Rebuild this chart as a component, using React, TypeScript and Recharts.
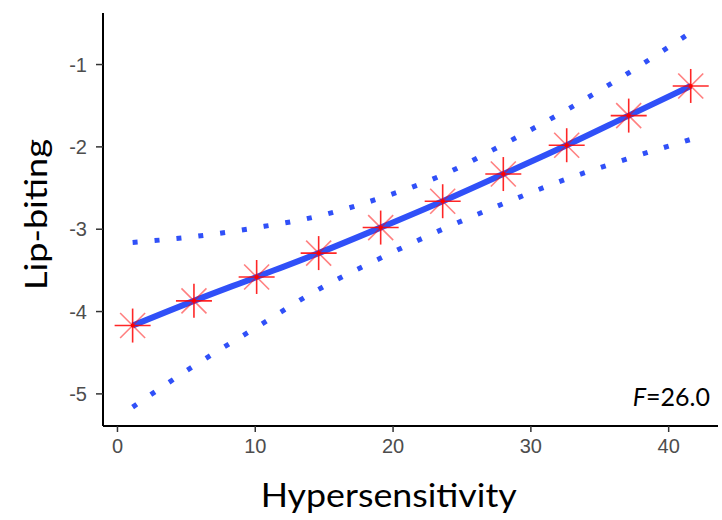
import React from "react";
import {
  ComposedChart,
  Line,
  Scatter,
  XAxis,
  YAxis,
} from "recharts";

// Hypersensitivity scores at which the model was evaluated
const hyper = [1.1, 5.55, 10.1, 14.6, 19.1, 23.6, 28.0, 32.6, 37.1, 41.6];
// predicted lip-biting and its confidence band
const fit = [-4.17, -3.87, -3.58, -3.29, -2.98, -2.66, -2.33, -1.98, -1.62, -1.26];
const upper = [-3.16, -3.09, -2.98, -2.84, -2.62, -2.34, -1.97, -1.55, -1.1, -0.61];
const lower = [-5.16, -4.66, -4.19, -3.73, -3.35, -3.0, -2.69, -2.39, -2.14, -1.91];

const xTicks = [0, 10, 20, 30, 40];
const yTicks = [-5, -4, -3, -2, -1];

const data = hyper.map((x, i) => ({
  x,
  fit: fit[i],
  upper: upper[i],
  lower: lower[i],
}));

const BLUE = "#3050f8";
const tickStyle = { fontSize: 20, fill: "#4d4d4d", fontFamily: "Liberation Sans, Arial, sans-serif" };

function Star(props: any) {
  const { cx, cy } = props;
  if (cx == null || cy == null) return null;
  const d = 12.5;
  return (
    <g>
      <line x1={cx - 18} y1={cy} x2={cx + 18} y2={cy} stroke="#ff0000" strokeOpacity={0.85} strokeWidth={1.6} />
      <line x1={cx} y1={cy - 17} x2={cx} y2={cy + 17} stroke="#ff0000" strokeOpacity={0.85} strokeWidth={1.6} />
      <line x1={cx - d} y1={cy - d} x2={cx + d} y2={cy + d} stroke="#ff0000" strokeOpacity={0.5} strokeWidth={1.6} />
      <line x1={cx - d} y1={cy + d} x2={cx + d} y2={cy - d} stroke="#ff0000" strokeOpacity={0.5} strokeWidth={1.6} />
      <circle cx={cx} cy={cy} r={2} fill="#ff0000" />
    </g>
  );
}

const titleFont = "Lato, 'Open Sans', sans-serif";

export default function App() {
  return (
    <div style={{ position: "absolute", left: 0, top: 0, width: 722, height: 520, background: "#fff" }}>
      <ComposedChart
        width={722}
        height={520}
        data={data}
        margin={{ top: 13, right: 4, bottom: 0, left: 0 }}
      >
        <XAxis
          dataKey="x"
          type="number"
          domain={[-1.05, 43.58]}
          ticks={xTicks}
          allowDataOverflow
          height={94}
          tickSize={6}
          tickMargin={7}
          tick={tickStyle}
          axisLine={{ stroke: "#000", strokeWidth: 2 }}
          tickLine={{ stroke: "#333", strokeWidth: 1.5 }}
          label={{
            content: () => (
              <g>
                <text
                  x={388.7}
                  y={507}
                  textAnchor="middle"
                  fontFamily={titleFont}
                  fontSize={32}
                  fill="#000"
                  textLength={256}
                  lengthAdjust="spacingAndGlyphs"
                >
                  Hypersensitivity
                </text>
                <text x={710} y={406} textAnchor="end" fontFamily={titleFont} fontSize={25} fill="#000">
                  <tspan fontStyle="italic">F</tspan>=26.0
                </text>
              </g>
            ),
          }}
        />
        <YAxis
          type="number"
          domain={[-5.39, -0.374]}
          ticks={yTicks}
          allowDataOverflow
          width={103}
          tickSize={7}
          tickMargin={9}
          tick={tickStyle}
          axisLine={{ stroke: "#000", strokeWidth: 2 }}
          tickLine={{ stroke: "#333", strokeWidth: 1.5 }}
          label={{
            content: () => (
              <text
                x={47}
                y={214.5}
                transform="rotate(-90 47 214.5)"
                textAnchor="middle"
                fontFamily={titleFont}
                fontSize={31}
                fill="#000"
                textLength={151}
                lengthAdjust="spacingAndGlyphs"
              >
                Lip-biting
              </text>
            ),
          }}
        />
        <Line
          dataKey="upper"
          type="monotone"
          stroke={BLUE}
          strokeWidth={5}
          strokeDasharray="5 17"
          dot={false}
          isAnimationActive={false}
        />
        <Line
          dataKey="lower"
          type="monotone"
          stroke={BLUE}
          strokeWidth={5}
          strokeDasharray="5 17"
          dot={false}
          isAnimationActive={false}
        />
        <Line
          dataKey="fit"
          type="monotone"
          stroke={BLUE}
          strokeWidth={6}
          dot={false}
          isAnimationActive={false}
        />
        <Scatter dataKey="fit" shape={<Star />} isAnimationActive={false} />
      </ComposedChart>
    </div>
  );
}
